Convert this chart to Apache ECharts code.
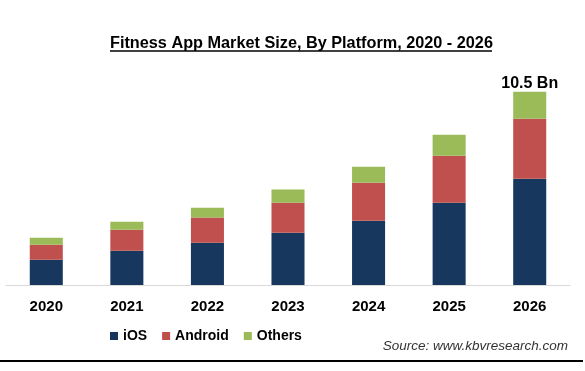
<!DOCTYPE html>
<html>
<head>
<meta charset="utf-8">
<script src="https://cdn.jsdelivr.net/npm/echarts@6/dist/echarts.min.js"></script>
<style>
html,body{margin:0;padding:0;background:#fff;}
#chart{width:585px;height:371px;}
</style>
</head>
<body>
<div id="chart"></div>
<script>
const categories = ['2020', '2021', '2022', '2023', '2024', '2025', '2026'];
const iosValues = [1.37, 1.86, 2.30, 2.84, 3.49, 4.47, 5.77];
const androidValues = [0.81, 1.14, 1.36, 1.63, 2.06, 2.55, 3.26];
const othersValues = [0.38, 0.43, 0.54, 0.71, 0.87, 1.14, 1.47];
const seriesNames = ['iOS', 'Android', 'Others'];
const titleText = 'Fitness App Market Size, By Platform, 2020 - 2026';
const sourceText = 'Source: www.kbvresearch.com';
const labelUnit = ' Bn';

const FONT = '"Liberation Sans", Arial, sans-serif';
const COLORS = ['#17375E', '#C0504D', '#9BBB59'];

const chart = echarts.init(document.getElementById('chart'), null, {renderer: 'canvas'});

const lastIdx = categories.length - 1;
const lastTotal = iosValues[lastIdx] + androidValues[lastIdx] + othersValues[lastIdx];

const othersData = othersValues.map((v, i) => {
  if (i === lastIdx) {
    return {
      value: v,
      label: {
        show: true,
        position: 'top',
        distance: 0,
        formatter: () => lastTotal.toFixed(1) + labelUnit,
        fontFamily: FONT,
        fontWeight: 'bold',
        fontSize: 16,
        lineHeight: 16,
        color: '#000'
      }
    };
  }
  return v;
});

const option = {
  backgroundColor: '#fff',
  animation: false,
  color: COLORS,
  title: {
    text: titleText,
    left: 110,
    top: 35,
    padding: 0,
    textStyle: {fontFamily: FONT, fontWeight: 'bold', fontSize: 16.25, color: '#000', lineHeight: 18}
  },
  legend: {
    data: seriesNames,
    left: 110,
    top: 328,
    padding: 0,
    itemWidth: 8,
    itemHeight: 8,
    itemGap: 15,
    icon: 'rect',
    textStyle: {fontFamily: FONT, fontWeight: 'bold', fontSize: 14, color: '#000', lineHeight: 16}
  },
  grid: {left: 6, right: 15, top: 64, bottom: 86, containLabel: false},
  xAxis: {
    type: 'category',
    data: categories,
    axisLine: {show: true, lineStyle: {color: '#D9D9D9', width: 1}},
    axisTick: {show: false},
    axisLabel: {fontFamily: FONT, fontWeight: 'bold', fontSize: 15, color: '#000', margin: 14, lineHeight: 15}
  },
  yAxis: {
    type: 'value',
    min: 0,
    max: 12,
    show: false,
    splitLine: {show: false}
  },
  series: [
    {name: seriesNames[0], type: 'bar', stack: 'total', data: iosValues, barCategoryGap: '59%', itemStyle: {color: COLORS[0]}},
    {name: seriesNames[1], type: 'bar', stack: 'total', data: androidValues, itemStyle: {color: COLORS[1]}},
    {name: seriesNames[2], type: 'bar', stack: 'total', data: othersData, itemStyle: {color: COLORS[2]}}
  ],
  graphic: [
    {type: 'line', shape: {x1: 110, y1: 51, x2: 492, y2: 51}, style: {stroke: '#000', lineWidth: 1.5}},
    {type: 'text', x: 568, y: 346, style: {text: sourceText, fontFamily: FONT, fontStyle: 'italic', fontSize: 13.5, fill: '#333', textAlign: 'right', textVerticalAlign: 'middle'}},
    {type: 'line', shape: {x1: 0, y1: 361, x2: 583, y2: 361}, style: {stroke: '#000', lineWidth: 2}}
  ]
};

chart.setOption(option);
</script>
</body>
</html>
